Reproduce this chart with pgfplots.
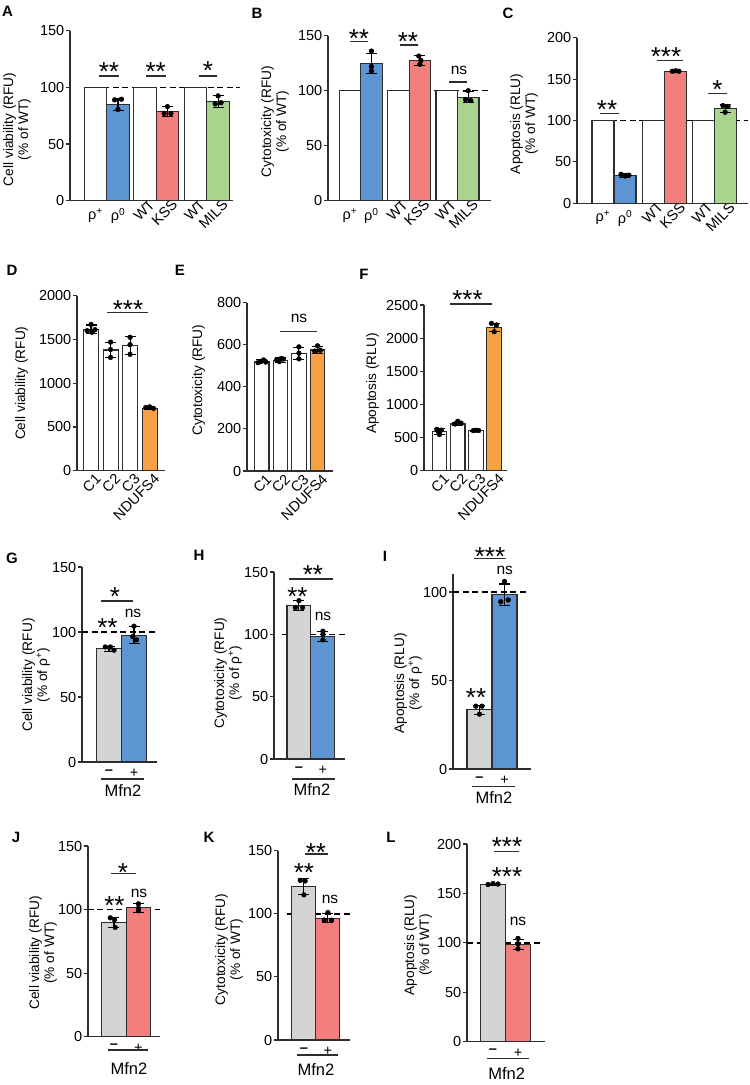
\documentclass[border=0pt]{standalone}
\usepackage{pgfplots}
\pgfplotsset{compat=1.18}
\usepackage{fontspec}
\setmainfont{Liberation Sans}
\definecolor{blueb}{RGB}{93,149,211}
\definecolor{redb}{RGB}{242,126,126}
\definecolor{greenb}{RGB}{168,212,142}
\definecolor{orangeb}{RGB}{247,160,68}
\definecolor{grayb}{RGB}{212,212,212}
\definecolor{axisc}{RGB}{45,45,45}
\newcommand{\tickfont}{\fontsize{14.5}{16}\selectfont}
\newcommand{\labfont}{\fontsize{13.7}{15}\selectfont}
\newcommand{\starfont}{\fontsize{26}{26}\selectfont}
\pgfplotsset{
 panel/.style={
   scale only axis, clip=false, anchor=south west,
   font=\tickfont,
   axis lines=left, axis line style={-, line width=1.1pt, draw=axisc},
   tick align=outside, major tick length=4pt,
   ytick style={line width=1.1pt, draw=axisc},
   xtick style={draw=none},
   ymin=0,
   every tick label/.append style={font=\tickfont},
   yticklabel style={inner sep=1.5pt, font=\tickfont},
   xticklabel style={font=\tickfont},
   /pgf/number format/assume math mode=true,
   /pgf/number format/1000 sep={},
   ylabel style={align=center, font=\labfont},
 },
 yl/.style={ylabel style={at={(ticklabel cs:#1)}}},
 dashl/.style={black, line width=1.5pt, dash pattern=on 6pt off 3.5pt, forget plot},
 wbar/.style={ybar, bar shift=0pt, fill=white, draw=axisc, line width=1.1pt},
 cbar/.style={ybar, bar shift=0pt, fill=#1, draw=axisc, line width=1.1pt,
   error bars/y dir=both, error bars/y explicit,
   error bars/error bar style={line width=1.1pt, black},
   error bars/error mark options={rotate=90, mark size=5.5pt, line width=1.1pt, black}},
 pts/.style={only marks, mark=*, mark size=2.4pt, black, mark options={fill=black, draw=black}},
 rotx/.style={xticklabel style={rotate=45, anchor=north east, inner sep=1pt, xshift=5pt}},
 rotex/.style={extra x tick style={major tick length=0pt, tick label style={rotate=45, anchor=north east, inner sep=1pt, xshift=5pt}}},
}
\begin{document}
\begin{tikzpicture}
\useasboundingbox (0,0) rectangle (750pt,-1085pt);

% ---------------- A ----------------
\begin{axis}[panel, rotex, yl=0.42, ylabel shift=4pt, at={(70pt,-200.7pt)}, width=163pt, height=170pt,
  xmin=-1.133, xmax=6.11, ymax=150, ytick={0,50,100,150}, bar width=1,
  xtick={0,1}, xticklabels={ρ\textsuperscript{+},ρ\textsuperscript{0}},
  extra x ticks={2.2,3.2,4.45,5.45}, extra x tick labels={WT,KSS,WT,MILS},
  ylabel={Cell viability (RFU)\\(\% of WT)}]
\addplot[dashl] coordinates {(-0.5,100) (6.42,100)};
\addplot[wbar] coordinates {(0,100) (2.2,100) (4.45,100)};
\addplot[cbar=blueb] coordinates {(1,85) +- (0,5.5)};
\addplot[cbar=redb] coordinates {(3.2,78.5) +- (0,4.5)};
\addplot[cbar=greenb] coordinates {(5.45,87.5) +- (0,5)};
\addplot[pts] coordinates {(0.85,89) (1.15,89.5) (1,80.5) (3.2,83) (3.05,77) (3.35,77) (5.45,92.5) (5.32,85.5) (5.58,86.5)};
\end{axis}

% ---------------- B ----------------
\begin{axis}[panel, rotex, yl=0.48, ylabel shift=4pt, at={(328pt,-200.7pt)}, width=163pt, height=165pt,
  xmin=-1.02, xmax=6.56, ymax=150, ytick={0,50,100,150}, bar width=1,
  xtick={0,1}, xticklabels={ρ\textsuperscript{+},ρ\textsuperscript{0}},
  extra x ticks={2.25,3.25,4.5,5.5}, extra x tick labels={WT,KSS,WT,MILS},
  ylabel={Cytotoxicity (RFU)\\(\% of WT)}]
\addplot[dashl] coordinates {(-0.5,100) (6.56,100)};
\addplot[wbar] coordinates {(0,100) (2.25,100) (4.5,100)};
\addplot[cbar=blueb] coordinates {(1,125) +- (0,9)};
\addplot[cbar=redb] coordinates {(3.25,127.5) +- (0,4.5)};
\addplot[cbar=greenb] coordinates {(5.5,94) +- (0,5)};
\addplot[pts] coordinates {(1,136) (1,122) (1,118) (3.2,131.5) (3.3,127.5) (3.25,124) (5.5,100) (5.38,92) (5.62,91)};
\end{axis}

% ---------------- C ----------------
\begin{axis}[panel, rotex, yl=0.48, ylabel shift=4pt, at={(577pt,-203.3pt)}, width=171pt, height=165.6pt,
  xmin=-1.18, xmax=6.59, ymax=200, ytick={0,50,100,150,200}, bar width=1,
  xtick={0,1}, xticklabels={ρ\textsuperscript{+},ρ\textsuperscript{0}},
  extra x ticks={2.3,3.3,4.55,5.55}, extra x tick labels={WT,KSS,WT,MILS},
  ylabel={Apoptosis (RLU)\\(\% of WT)}]
\addplot[dashl] coordinates {(-0.5,100) (6.59,100)};
\addplot[wbar] coordinates {(0,100) (2.3,100) (4.55,100)};
\addplot[cbar=blueb] coordinates {(1,33.5) +- (0,2.5)};
\addplot[cbar=redb] coordinates {(3.3,159.5) +- (0,1)};
\addplot[cbar=greenb] coordinates {(5.55,114.5) +- (0,4.5)};
\addplot[pts] coordinates {(0.82,35) (1,33) (1.18,34) (3.15,159.5) (3.3,160) (3.45,159.5) (5.45,118) (5.68,117) (5.55,110)};
\end{axis}

% ---------------- D ----------------
\begin{axis}[panel, rotx, yl=0.5, ylabel shift=6pt, at={(77pt,-470.7pt)}, width=88pt, height=175pt,
  xmin=-0.72, xmax=3.79, ymax=2000, ytick={0,500,1000,1500,2000}, bar width=0.77,
  xtick={0,1,2,3}, xticklabels={C1,C2,C3,NDUFS4},
  ylabel={Cell viability (RFU)}]
\addplot[cbar=white] coordinates {(0,1615) +- (0,50) (1,1380) +- (0,90) (2,1430) +- (0,100)};
\addplot[cbar=orangeb] coordinates {(3,715) +- (0,15)};
\addplot[pts] coordinates {(0,1672) (-0.2,1600) (0.2,1612) (0.05,1582) (1,1470) (1,1385) (1,1295) (2,1525) (2,1440) (2,1330) (2.8,722) (3,730) (3.2,712)};
\end{axis}

% ---------------- E ----------------
\begin{axis}[panel, rotx, yl=0.54, ylabel shift=7pt, at={(247pt,-471pt)}, width=86pt, height=168.3pt,
  xmin=-0.79, xmax=3.83, ymax=800, ytick={0,200,400,600,800}, bar width=0.78,
  xtick={0,1,2,3}, xticklabels={C1,C2,C3,NDUFS4},
  ylabel={Cytotoxicity (RFU)}]
\addplot[cbar=white] coordinates {(0,522) +- (0,8) (1,527) +- (0,10) (2,560) +- (0,28)};
\addplot[cbar=orangeb] coordinates {(3,575) +- (0,15)};
\addplot[pts] coordinates {(-0.2,515) (-0.05,520) (0.1,528) (0.22,518) (0.8,528) (0.95,520) (1.15,532) (1.05,535) (2,590) (2,560) (2,533) (3,595) (2.85,570) (3.15,574)};
\end{axis}

% ---------------- F ----------------
\begin{axis}[panel, rotx, yl=0.526, ylabel shift=2pt, at={(424pt,-470.7pt)}, width=83pt, height=165.7pt,
  xmin=-0.85, xmax=3.7, ymax=2500, ytick={0,500,1000,1500,2000,2500}, bar width=0.8,
  xtick={0,1,2,3}, xticklabels={C1,C2,C3,NDUFS4},
  ylabel={Apoptosis (RLU)}]
\addplot[cbar=white] coordinates {(0,590) +- (0,45) (1,705) +- (0,25) (2,602) +- (0,8)};
\addplot[cbar=orangeb] coordinates {(3,2163) +- (0,60)};
\addplot[pts] coordinates {(-0.15,625) (0.1,612) (0,545) (-0.05,585) (0.85,705) (1,745) (1.18,718) (1.85,605) (2,610) (2.15,606) (2.85,2222) (3.12,2199) (3,2098)};
\end{axis}

% ---------------- G ----------------
\begin{axis}[panel, yl=0.446, ylabel shift=-3pt, at={(82pt,-762pt)}, width=75pt, height=195pt,
  xmin=-1.08, xmax=1.92, ymax=150, ytick={0,50,100,150}, bar width=1,
  xtick={0,1}, xticklabels={\textbf{–},+},
  ylabel={Cell viability (RFU)\\(\% of ρ\textsuperscript{+})}]
\addplot[dashl] coordinates {(-1.08,100) (1.92,100)};
\addplot[cbar=grayb] coordinates {(0,87) +- (0,2)};
\addplot[cbar=blueb] coordinates {(1,97.5) +- (0,6.5)};
\addplot[pts] coordinates {(-0.15,88.5) (0.05,88.5) (0.2,86) (1,104.5) (0.95,96.5) (1.1,94)};
\end{axis}

% ---------------- H ----------------
\begin{axis}[panel, yl=0.46, ylabel shift=-3pt, at={(274pt,-759pt)}, width=71pt, height=187pt,
  xmin=-1.04, xmax=1.92, ymax=150, ytick={0,50,100,150}, bar width=1,
  xtick={0,1}, xticklabels={\textbf{–},+},
  ylabel={Cytotoxicity (RFU)\\(\% of ρ\textsuperscript{+})}]
\addplot[dashl] coordinates {(-0.71,100) (1.92,100)};
\addplot[cbar=grayb] coordinates {(0,123) +- (0,4)};
\addplot[cbar=blueb] coordinates {(1,98) +- (0,4)};
\addplot[pts] coordinates {(-0.15,121.5) (0,127) (0.15,121.5) (1,102.5) (1,100) (1,95.5)};
\end{axis}

% ---------------- I ----------------
\begin{axis}[panel, yl=0.44, ylabel shift=-4pt, at={(453pt,-769pt)}, width=78pt, height=194.7pt,
  xmin=-1.06, xmax=2.06, ymax=110, ytick={0,50,100}, bar width=1,
  xtick={0,1}, xticklabels={\textbf{–},+},
  ylabel={Apoptosis (RLU)\\(\% of ρ\textsuperscript{+})}]
\addplot[dashl] coordinates {(-1.06,100) (1.9,100)};
\addplot[cbar=grayb] coordinates {(0,33.5) +- (0,2.5)};
\addplot[cbar=blueb] coordinates {(1,98.5) +- (0,6)};
\addplot[pts] coordinates {(-0.15,35.5) (0.1,35.5) (0,31) (1,106) (0.85,94.5) (1.15,95.5)};
\end{axis}

% ---------------- J ----------------
\begin{axis}[panel, yl=0.44, ylabel shift=-4pt, at={(88pt,-1036.7pt)}, width=72pt, height=190.7pt,
  xmin=-1.06, xmax=1.88, ymax=150, ytick={0,50,100,150}, bar width=1,
  xtick={0,1}, xticklabels={\textbf{–},+},
  ylabel={Cell viability (RFU)\\(\% of WT)}]
\addplot[dashl] coordinates {(-1.06,100) (1.88,100)};
\addplot[cbar=grayb] coordinates {(0,90) +- (0,4)};
\addplot[cbar=redb] coordinates {(1,101.5) +- (0,3.5)};
\addplot[pts] coordinates {(-0.15,93.5) (0.02,92) (0.05,86) (1,104.5) (1,101) (1,99)};
\end{axis}

% ---------------- K ----------------
\begin{axis}[panel, yl=0.478, at={(278pt,-1040pt)}, width=72pt, height=189.3pt,
  xmin=-1.08, xmax=1.92, ymax=150, ytick={0,50,100,150}, bar width=1,
  xtick={0,1}, xticklabels={\textbf{–},+},
  ylabel={Cytotoxicity (RFU)\\(\% of WT)}]
\addplot[dashl] coordinates {(-0.71,100) (1.92,100)};
\addplot[cbar=grayb] coordinates {(0,121.5) +- (0,6.5)};
\addplot[cbar=redb] coordinates {(1,96.5) +- (0,3.5)};
\addplot[pts] coordinates {(-0.15,126.5) (0.05,126) (0,115) (1,101) (0.85,95) (1.15,95)};
\end{axis}

% ---------------- L ----------------
\begin{axis}[panel, yl=0.489, at={(467pt,-1041.7pt)}, width=78pt, height=197.7pt,
  xmin=-1.04, xmax=2.08, ymax=200, ytick={0,50,100,150,200}, bar width=1,
  xtick={0,1}, xticklabels={\textbf{–},+},
  ylabel={Apoptosis (RLU)\\(\% of WT)}]
\addplot[dashl] coordinates {(-1.04,100) (1.96,100)};
\addplot[cbar=grayb] coordinates {(0,159) +- (0,1)};
\addplot[cbar=redb] coordinates {(1,98.5) +- (0,5)};
\addplot[pts] coordinates {(-0.2,159) (0,160) (0.2,159.5) (1,104.5) (1,99) (1,94)};
\end{axis}

% ---------------- annotations ----------------
\begin{scope}[x=1pt,y=-1pt]
\tikzset{st/.style={font=\starfont, anchor=base, inner sep=0pt, yshift=-15pt},
         tx/.style={font=\fontsize{15.5}{16}\selectfont, inner sep=0pt},
         mf/.style={font=\fontsize{16.5}{17}\selectfont, inner sep=0pt},
         br/.style={line width=1.1pt, draw=axisc},
         pl/.style={font=\bfseries\fontsize{15}{15}\selectfont, inner sep=0pt}}
% panel letters
\node[pl] at (7.5,11) {A};
\node[pl] at (257,13) {B};
\node[pl] at (508,13) {C};
\node[pl] at (12,270) {D};
\node[pl] at (180,270) {E};
\node[pl] at (364,274) {F};
\node[pl] at (12,558) {G};
\node[pl] at (199,555) {H};
\node[pl] at (385,556) {I};
\node[pl] at (16,837) {J};
\node[pl] at (209,837) {K};
\node[pl] at (391,837) {L};
% A
\node[st] at (109,65) {**}; \draw[br] (99,76) -- (119,76);
\node[st] at (155.7,65) {**}; \draw[br] (145.7,76) -- (165.7,76);
\node[st] at (208,64) {*}; \draw[br] (199,76) -- (216.7,76);
% B
\node[st] at (359,32) {**}; \draw[br] (350,41.7) -- (368,41.7);
\node[st] at (408,35) {**}; \draw[br] (400,45) -- (418,45);
\node[tx] at (459,70.7) {ns}; \draw[br] (449,82) -- (467,82);
% C
\node[st] at (607,103) {**}; \draw[br] (600,113.3) -- (619,113.3);
\node[st] at (666,50.7) {***}; \draw[br] (657,60.7) -- (683,60.7);
\node[st] at (717.5,83) {*}; \draw[br] (708,93.3) -- (727,93.3);
% D E F
\node[st] at (128,303.3) {***}; \draw[br] (107,312.7) -- (148,312.7);
\node[tx] at (299,318) {ns}; \draw[br] (280,331.7) -- (316.7,331.7);
\node[st] at (467.5,293.3) {***}; \draw[br] (450,304) -- (491.7,304);
% G
\node[st] at (115,590) {*}; \draw[br] (101,601) -- (133,601);
\node[st] at (107.5,621.7) {**};
\node[tx] at (133,613.3) {ns};
\draw[br] (101,779) -- (144,779); \node[mf] at (123,791) {Mfn2};
% H
\node[st] at (313,568) {**}; \draw[br] (289,579) -- (333,579);
\node[st] at (297.5,590) {**};
\node[tx] at (323,616) {ns};
\draw[br] (292,779) -- (335,779); \node[mf] at (312,790) {Mfn2};
% I
\node[st] at (490,550) {***}; \draw[br] (474,558.3) -- (506,558.3);
\node[tx] at (504.7,570) {ns};
\node[st] at (476,691.7) {**};
\draw[br] (472,786.7) -- (515,786.7); \node[mf] at (494,797.3) {Mfn2};
% J
\node[st] at (123,866.7) {*}; \draw[br] (110.7,873.3) -- (135.7,873.3);
\node[st] at (114.5,899.3) {**};
\node[tx] at (139,893.3) {ns};
\draw[br] (108,1050) -- (148,1050); \node[mf] at (129,1068.3) {Mfn2};
% K
\node[st] at (316,846.7) {**}; \draw[br] (305,854) -- (328,854);
\node[st] at (304,866.7) {**};
\node[tx] at (330,899.3) {ns};
\draw[br] (297,1055) -- (338,1055); \node[mf] at (316,1070) {Mfn2};
% L
\node[st] at (507,840) {***}; \draw[br] (494,851.7) -- (519,851.7);
\node[st] at (507,870.7) {***};
\node[tx] at (518,921.7) {ns};
\draw[br] (486.7,1058.3) -- (529.3,1058.3); \node[mf] at (506.7,1073.3) {Mfn2};
\end{scope}
\end{tikzpicture}
\end{document}
